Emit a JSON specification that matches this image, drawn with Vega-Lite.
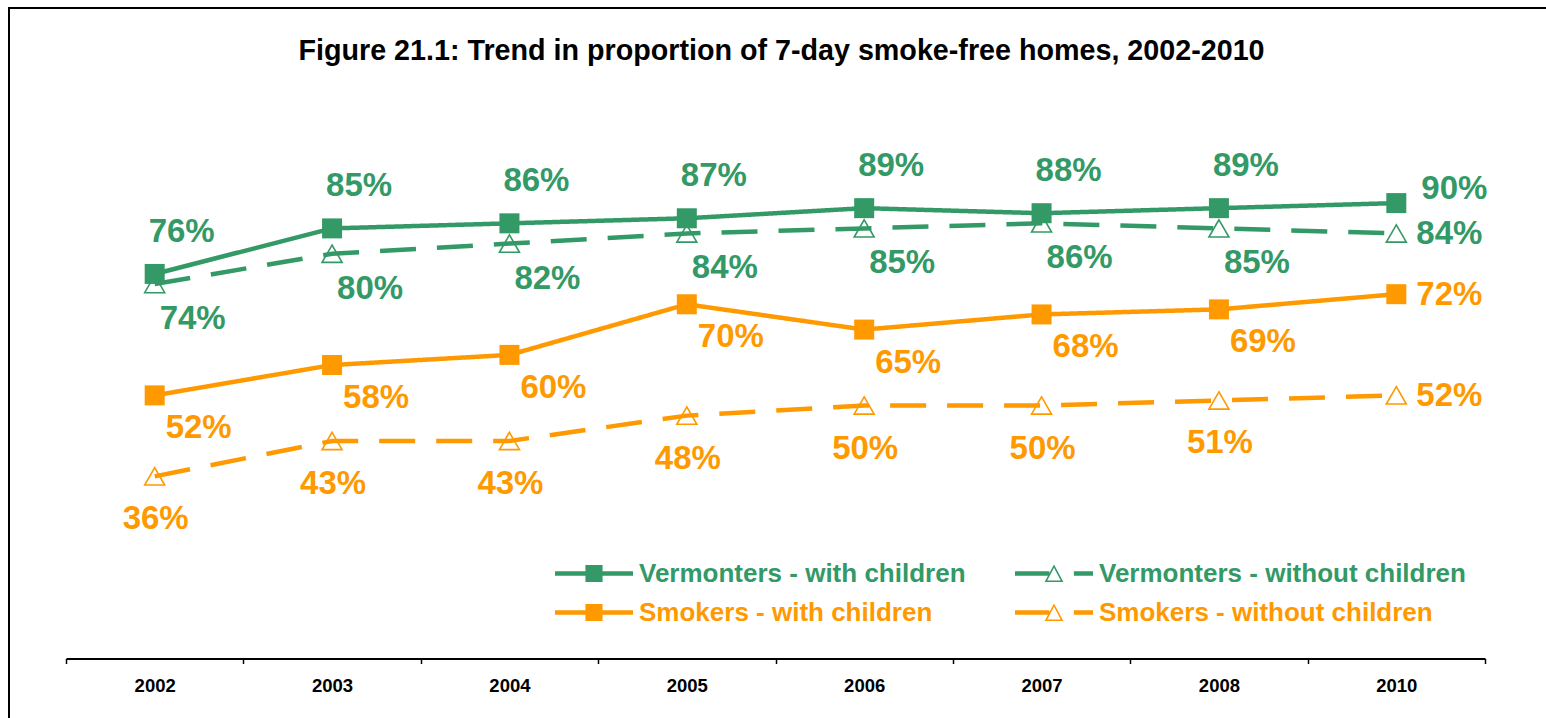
{
  "$schema": "https://vega.github.io/schema/vega-lite/v6.json",
  "width": 1539,
  "height": 712,
  "autosize": "none",
  "padding": {"left": 9, "top": 8, "right": -2, "bottom": -2},
  "background": "white",
  "config": {
    "view": {"stroke": "black", "strokeWidth": 2},
    "font": "Liberation Sans"
  },
  "title": {
    "text": "Figure 21.1: Trend in proportion of 7-day smoke-free homes, 2002-2010",
    "font": "Liberation Sans",
    "fontSize": 28.7,
    "fontWeight": "bold",
    "color": "black",
    "anchor": "middle",
    "baseline": "alphabetic",
    "offset": -81,
    "dx": 3
  },
  "data": {
    "values": [
      {"year": "2002", "series": "Vermonters - with children", "value": 0.76},
      {"year": "2003", "series": "Vermonters - with children", "value": 0.85},
      {"year": "2004", "series": "Vermonters - with children", "value": 0.86},
      {"year": "2005", "series": "Vermonters - with children", "value": 0.87},
      {"year": "2006", "series": "Vermonters - with children", "value": 0.89},
      {"year": "2007", "series": "Vermonters - with children", "value": 0.88},
      {"year": "2008", "series": "Vermonters - with children", "value": 0.89},
      {"year": "2010", "series": "Vermonters - with children", "value": 0.90},
      {"year": "2002", "series": "Vermonters - without children", "value": 0.74},
      {"year": "2003", "series": "Vermonters - without children", "value": 0.80},
      {"year": "2004", "series": "Vermonters - without children", "value": 0.82},
      {"year": "2005", "series": "Vermonters - without children", "value": 0.84},
      {"year": "2006", "series": "Vermonters - without children", "value": 0.85},
      {"year": "2007", "series": "Vermonters - without children", "value": 0.86},
      {"year": "2008", "series": "Vermonters - without children", "value": 0.85},
      {"year": "2010", "series": "Vermonters - without children", "value": 0.84},
      {"year": "2002", "series": "Smokers - with children", "value": 0.52},
      {"year": "2003", "series": "Smokers - with children", "value": 0.58},
      {"year": "2004", "series": "Smokers - with children", "value": 0.60},
      {"year": "2005", "series": "Smokers - with children", "value": 0.70},
      {"year": "2006", "series": "Smokers - with children", "value": 0.65},
      {"year": "2007", "series": "Smokers - with children", "value": 0.68},
      {"year": "2008", "series": "Smokers - with children", "value": 0.69},
      {"year": "2010", "series": "Smokers - with children", "value": 0.72},
      {"year": "2002", "series": "Smokers - without children", "value": 0.36},
      {"year": "2003", "series": "Smokers - without children", "value": 0.43},
      {"year": "2004", "series": "Smokers - without children", "value": 0.43},
      {"year": "2005", "series": "Smokers - without children", "value": 0.48},
      {"year": "2006", "series": "Smokers - without children", "value": 0.50},
      {"year": "2007", "series": "Smokers - without children", "value": 0.50},
      {"year": "2008", "series": "Smokers - without children", "value": 0.51},
      {"year": "2010", "series": "Smokers - without children", "value": 0.52}
    ]
  },
  "encoding": {
    "x": {
      "field": "year",
      "type": "ordinal",
      "scale": {"type": "band", "range": [57, 1476], "paddingInner": 0, "paddingOuter": 0},
      "axis": {
        "title": null,
        "orient": "bottom",
        "offset": -61.5,
        "domainColor": "black",
        "domainWidth": 2,
        "tickColor": "black",
        "tickWidth": 1.5,
        "tickSize": 5,
        "tickBand": "extent",
        "labelAngle": 0,
        "labelFont": "Liberation Sans",
        "labelFontSize": 18.5,
        "labelFontWeight": "bold",
        "labelColor": "black",
        "labelPadding": 13,
        "grid": false
      }
    },
    "y": {
      "field": "value",
      "type": "quantitative",
      "scale": {"domain": [0, 1], "range": [650.5, 144.5]},
      "axis": null
    },
    "color": {
      "field": "series",
      "type": "nominal",
      "scale": {
        "domain": ["Vermonters - with children", "Smokers - with children", "Vermonters - without children", "Smokers - without children"],
        "range": ["#339966", "#FF9900", "#339966", "#FF9900"]
      },
      "legend": {
        "title": null,
        "orient": "none",
        "legendX": 546,
        "legendY": 546,
        "columns": 2,
        "columnPadding": 49,
        "rowPadding": 0,
        "clipHeight": 39,
        "padding": 0,
        "labelFont": "Liberation Sans",
        "labelFontSize": 26,
        "labelFontWeight": "bold",
        "labelOffset": 6,
        "labelLimit": 600,
        "symbolSize": 6084,
        "symbolStrokeWidth": 0,
        "encode": {
          "symbols": {
            "update": {
              "shape": {"signal": "indexof(datum.value, 'without') >= 0 ? 'M-1,-0.055H-0.12V0.055H-1Z M0.51,-0.055H1V0.055H0.51Z M0,-0.23L0.24,0.22H-0.24Z M0,-0.145L-0.173,0.18H0.173Z' : 'M-1,-0.055H1V0.055H-1Z M-0.22,-0.22H0.22V0.22H-0.22Z'"},
              "fill": {"signal": "scale('color', datum.value)"},
              "stroke": {"value": "transparent"},
              "strokeWidth": {"value": 0},
              "size": {"value": 6084},
              "opacity": {"value": 1}
            }
          },
          "labels": {
            "update": {
              "fill": {"signal": "scale('color', datum.value)"}
            }
          }
        }
      }
    }
  },
  "layer": [
    {
      "mark": {"type": "line", "strokeWidth": 4.5},
      "encoding": {
        "strokeDash": {
          "field": "series",
          "type": "nominal",
          "scale": {
            "domain": ["Vermonters - with children", "Smokers - with children", "Vermonters - without children", "Smokers - without children"],
            "range": [[1, 0], [1, 0], [36, 21], [36, 21]]
          },
          "legend": null
        }
      }
    },
    {
      "transform": [{"filter": "indexof(datum.series, 'without') >= 0"}],
      "mark": {"type": "point", "shape": "triangle-up", "filled": false, "size": 400, "strokeWidth": 1.6, "opacity": 1}
    },
    {
      "transform": [{"filter": "indexof(datum.series, 'without') < 0"}],
      "mark": {"type": "point", "shape": "square", "filled": true, "size": 400, "opacity": 1}
    },
    {
      "transform": [{"filter": "datum.series == 'Vermonters - with children' && datum.year != '2010'"}],
      "mark": {"type": "text", "font": "Liberation Sans", "fontSize": 33, "fontWeight": "bold", "align": "center", "baseline": "middle", "dx": 27, "dy": -42},
      "encoding": {"text": {"field": "value", "type": "quantitative", "format": ".0%"}}
    },
    {
      "transform": [{"filter": "datum.series == 'Vermonters - without children' && datum.year != '2010'"}],
      "mark": {"type": "text", "font": "Liberation Sans", "fontSize": 33, "fontWeight": "bold", "align": "center", "baseline": "middle", "dx": 38, "dy": 35},
      "encoding": {"text": {"field": "value", "type": "quantitative", "format": ".0%"}}
    },
    {
      "transform": [{"filter": "datum.series == 'Smokers - with children' && datum.year != '2010'"}],
      "mark": {"type": "text", "font": "Liberation Sans", "fontSize": 33, "fontWeight": "bold", "align": "center", "baseline": "middle", "dx": 44, "dy": 33},
      "encoding": {"text": {"field": "value", "type": "quantitative", "format": ".0%"}}
    },
    {
      "transform": [{"filter": "datum.series == 'Smokers - without children' && datum.year != '2010'"}],
      "mark": {"type": "text", "font": "Liberation Sans", "fontSize": 33, "fontWeight": "bold", "align": "center", "baseline": "middle", "dx": 1, "dy": 43},
      "encoding": {"text": {"field": "value", "type": "quantitative", "format": ".0%"}}
    },
    {
      "transform": [{"filter": "datum.series == 'Vermonters - with children' && datum.year == '2010'"}],
      "mark": {"type": "text", "font": "Liberation Sans", "fontSize": 33, "fontWeight": "bold", "align": "left", "baseline": "middle", "dx": 25, "dy": -14.5},
      "encoding": {"text": {"field": "value", "type": "quantitative", "format": ".0%"}}
    },
    {
      "transform": [{"filter": "datum.series != 'Vermonters - with children' && datum.year == '2010'"}],
      "mark": {"type": "text", "font": "Liberation Sans", "fontSize": 33, "fontWeight": "bold", "align": "left", "baseline": "middle", "dx": 20, "dy": 1},
      "encoding": {"text": {"field": "value", "type": "quantitative", "format": ".0%"}}
    }
  ]
}
